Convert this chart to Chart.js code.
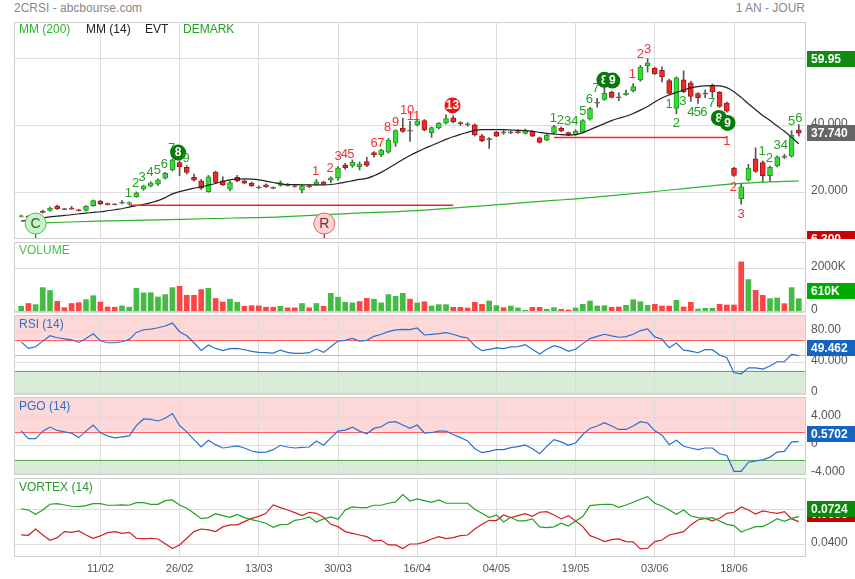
<!DOCTYPE html>
<html>
<head>
<meta charset="utf-8">
<script src="https://cdn.jsdelivr.net/npm/chart.js@4.4.1/dist/chart.umd.min.js"></script>
<style>
body { margin:0; background:#fff; width:855px; height:579px; overflow:hidden; position:relative; font-family:'Liberation Sans', Arial, sans-serif; }
canvas { position:absolute; }
.t { position:absolute; font-size:12px; line-height:14px; white-space:nowrap; }
</style>
</head>
<body>
<canvas id="price" width="841" height="221" style="left:14px;top:18px"></canvas>
<canvas id="volume" width="841" height="74" style="left:14px;top:240px"></canvas>
<canvas id="rsi" width="841" height="83" style="left:14px;top:313px"></canvas>
<canvas id="pgo" width="841" height="82" style="left:14px;top:395px"></canvas>
<canvas id="vortex" width="841" height="103" style="left:14px;top:476px"></canvas>

<div class="t" style="left:14px;top:1px;color:#888">2CRSI - abcbourse.com</div>
<div class="t" style="right:50px;top:1px;color:#888">1 AN - JOUR</div>
<div class="t" style="left:19px;top:22px;color:#2ab52a">MM (200)</div>
<div class="t" style="left:86px;top:22px;color:#222">MM (14)</div>
<div class="t" style="left:145px;top:22px;color:#222">EVT</div>
<div class="t" style="left:183px;top:22px;color:#22a022">DEMARK</div>
<div class="t" style="left:19px;top:243px;color:#4cbf4c">VOLUME</div>
<div class="t" style="left:19px;top:317px;color:#2a6fd0">RSI (14)</div>
<div class="t" style="left:19px;top:399px;color:#2a6fd0">PGO (14)</div>
<div class="t" style="left:19px;top:480px;color:#2a9a2a">VORTEX (14)</div>

<script>
// x axis: one slot per trading day, a date label every 11 sessions
const tickIdx = [11, 22, 33, 44, 55, 66, 77, 88, 99];
const tickLabels = ['11/02', '26/02', '13/03', '30/03', '16/04', '04/05', '19/05', '03/06', '18/06'];

const opens = [
  13.0,13.1,12.9,14.5,14.8,16.1,15.2,15.5,15.0,14.8,
  16.2,17.6,16.8,16.6,17.1,16.7,18.9,21.1,22.0,22.6,
  24.4,26.8,29.0,27.6,24.6,23.6,20.4,26.2,23.6,21.1,
  24.6,23.6,22.9,21.6,22.4,21.5,22.2,22.3,22.2,20.8,
  22.1,22.5,23.2,23.8,24.4,28.3,28.0,27.8,29.3,32.0,
  31.3,32.1,34.8,39.3,38.5,40.2,41.5,37.9,39.3,40.7,
  42.3,40.9,40.4,40.2,37.0,36.0,38.0,38.0,38.0,38.2,
  37.7,38.3,36.4,35.7,37.8,39.2,37.9,37.3,38.0,41.9,
  46.8,47.8,49.9,48.4,49.2,50.4,53.6,57.8,57.0,56.4,
  53.4,45.1,53.6,52.7,49.5,49.5,52.0,49.9,46.7,27.4,
  18.3,23.8,30.1,29.0,25.1,28.0,30.7,30.9,38.7];
const highs = [
  13.4,13.3,13.8,14.9,15.8,16.4,15.4,16.0,15.1,16.2,
  17.9,17.8,17.0,16.8,17.7,17.3,20.3,22.3,23.3,24.2,
  26.1,30.0,29.6,28.1,25.6,24.0,25.2,26.5,24.8,23.5,
  25.2,23.9,23.2,22.1,22.7,21.8,23.6,22.8,22.4,22.3,
  22.4,24.0,23.5,24.8,27.8,28.8,29.8,29.2,30.6,32.3,
  33.0,36.2,38.8,42.2,41.3,41.9,41.8,39.6,40.9,43.2,
  43.0,41.2,40.9,40.5,37.4,36.5,38.3,38.6,38.5,38.8,
  39.0,38.6,36.6,37.5,40.1,39.6,38.1,38.8,41.8,45.4,
  48.1,51.4,50.3,49.8,50.6,52.5,57.9,59.95,57.3,57.5,
  53.8,54.5,56.3,53.2,49.8,50.6,52.4,50.2,47.0,27.6,
  22.9,28.5,33.4,29.5,28.0,31.0,31.5,38.5,40.3];
const lows = [
  12.8,12.6,12.7,14.0,14.6,15.1,15.0,15.1,14.6,14.6,
  16.0,16.5,16.4,16.4,16.7,16.5,18.7,20.8,21.8,22.2,
  24.1,26.5,25.1,25.6,23.5,21.0,20.2,22.9,22.2,20.6,
  23.3,22.7,21.9,21.2,21.6,21.2,22.0,22.0,21.7,20.0,
  21.6,22.3,22.4,23.0,23.8,27.0,27.6,26.8,27.8,30.6,
  30.8,31.8,33.8,38.0,35.3,39.9,38.4,36.5,39.0,40.4,
  40.8,40.0,39.8,36.9,35.2,33.2,36.7,37.4,37.6,37.7,
  37.5,36.7,34.8,35.5,37.6,38.2,37.0,37.1,37.8,41.6,
  45.5,47.5,48.2,47.4,49.0,50.0,53.2,55.9,55.2,53.0,
  49.3,43.5,49.8,47.2,46.6,48.3,48.4,45.4,44.0,24.9,
  16.6,23.5,26.1,23.3,23.4,27.7,30.2,30.6,36.9];
const closes = [
  13.2,12.8,13.5,14.2,15.5,15.3,15.2,15.2,14.7,16.0,
  17.7,16.7,16.5,16.6,17.1,17.1,20.0,22.0,23.0,23.9,
  25.8,29.8,27.8,26.1,23.8,21.4,24.8,23.1,22.4,23.1,
  23.6,22.9,22.1,21.6,21.8,21.5,23.0,22.3,21.9,22.1,
  21.8,23.3,22.6,24.5,27.4,27.5,29.2,28.6,28.2,31.3,
  32.7,35.7,38.5,38.3,38.5,41.4,38.7,39.4,40.7,42.1,
  41.1,40.6,40.4,37.2,35.5,36.0,36.9,38.0,38.0,37.9,
  38.7,36.9,35.0,37.2,39.7,38.4,37.2,38.3,41.5,45.1,
  46.8,49.6,48.4,48.4,49.6,51.6,57.4,58.7,55.4,54.5,
  49.6,54.2,50.1,48.7,48.3,49.5,50.0,45.7,44.3,25.2,
  21.8,27.4,26.4,25.1,27.6,30.7,30.7,37.2,37.74];

const mm14 = [
  11.6,11.9,12.2,12.6,12.9,13.1,13.3,13.5,13.8,14.0,
  14.2,14.4,14.7,15.0,15.3,15.8,16.2,16.6,17.1,17.7,
  18.6,19.7,20.4,20.9,21.4,21.8,22.3,22.8,23.4,23.9,
  24.1,24.2,24.1,23.9,23.5,23.1,22.7,22.5,22.5,22.4,
  22.4,22.4,22.4,22.5,22.8,23.2,23.6,24.0,24.3,25.1,
  26.1,27.3,28.6,29.9,31.1,32.2,33.2,34.1,35.0,35.9,
  36.7,37.4,38.0,38.6,38.8,38.8,38.8,38.8,38.7,38.6,
  38.5,38.3,38.0,37.7,37.5,37.3,37.2,37.3,37.9,38.8,
  39.7,40.6,41.5,42.2,42.8,43.6,44.6,45.7,47.0,48.2,
  49.1,49.9,50.6,51.2,51.6,51.8,51.9,51.8,51.3,50.1,
  48.4,46.5,44.7,43.0,41.5,39.9,38.3,36.5,34.6];
// MM 200, read at a few sessions along the curve
const mm200 = [[3,11.1],[10.6,11.6],[17.5,11.9],[26.8,12.4],[36,12.9],[46,13.9],[56,14.9],
  [73.9,17.8],[77,18.2],[87,20.2],[99,22.7],[108,23.6]];

// EVT support lines [from, to, level] and circles [slot, level, letter, colour]
const evtLines = [[15, 60, 16.35], [74, 98, 36.5]];
const evtMarks = [[2, 10.9, 'C', 'g'], [42.1, 10.9, 'R', 'r']];

// DeMark counts [slot, level, text, colour, circled]
const demark = [
  [14.9,19.9,'1','g'],[15.9,22.9,'2','g'],[16.8,24.9,'3','g'],[17.9,26.1,'4','g'],[18.9,26.9,'5','g'],
  [19.9,28.7,'6','g'],[20.9,33.5,'7','g'],[21.8,32.0,'8','g',1],[22.9,30.4,'9','g'],
  [40.9,26.6,'1','r'],[42.9,27.4,'2','r'],[44.0,31.0,'3','r'],[44.9,31.7,'4','r'],[45.8,31.7,'5','r'],
  [49.0,35.0,'6','r'],[49.95,35.0,'7','r'],[50.9,39.5,'8','r'],[52.0,41.0,'9','r'],[53.6,44.7,'10','r'],
  [54.5,43.0,'11','r'],[59.9,46.0,'13','r',1],
  [73.9,42.2,'1','g'],[74.9,41.8,'2','g'],[75.9,41.3,'3','g'],[76.9,41.5,'4','g'],[78.0,44.5,'5','g'],
  [78.9,48.0,'6','g'],[79.8,51.3,'7','g'],[81.0,53.6,'8','g',1],[82.1,53.4,'9','g',1],
  [84.9,55.5,'1','r'],[86.0,61.3,'2','r'],[87.0,62.7,'3','r'],
  [90.0,46.5,'1','g'],[91.0,40.8,'2','g'],[91.9,47.2,'3','g'],[93.0,44.2,'4','g'],[93.9,44.2,'5','g'],
  [94.8,44.2,'6','g'],[95.9,46.8,'7','g'],[96.9,42.3,'8','g',1],[98.1,40.8,'9','g',1],
  [98.0,35.5,'1','r'],[98.9,21.9,'2','r'],[100.0,13.8,'3','r'],
  [102.9,32.5,'1','g'],[103.9,30.4,'2','g'],[105.0,34.3,'3','g'],[106.0,34.3,'4','g'],
  [107.0,41.5,'5','g'],[108.0,42.3,'6','g']];

// volume in thousands, g = up day, r = down day
const volumes = [
  260,390,340,1120,990,490,200,390,430,570,
  750,460,230,220,280,220,1090,880,890,690,
  800,1120,1180,770,770,1030,1090,620,460,590,
  450,260,290,280,220,220,260,190,190,390,
  190,390,260,860,680,450,420,480,630,590,
  420,800,720,860,590,420,470,276,338,338,
  215,215,184,445,353,507,292,200,276,184,
  77,215,215,123,200,123,92,184,353,507,
  276,292,215,230,307,568,476,307,353,276,
  276,538,230,445,138,169,169,353,323,323,
  2304,1490,998,768,614,645,384,1121,610];
const volDir = 'grgggrrrrggrrrggggggggrrrrgrrggrrrrrgrrgrgrggggrrgggggrgrgggrrrrrggrgggrrggrrgggggrrggggrrrgrrgggrrrrgrrggrgg';

const rsi = [
  67.1,58.6,60.7,68.0,74.9,72.3,71.0,69.7,66.3,71.5,
  77.5,68.5,65.9,65.9,67.2,70.2,79.2,82.6,83.5,85.2,
  87.4,91.2,80.1,74.9,65.9,56.1,63.0,58.6,55.7,58.3,
  58.6,56.9,54.8,53.5,53.1,52.6,56.5,53.5,52.2,52.2,
  53.1,57.8,53.5,60.8,68.1,69.0,71.6,68.1,69.0,74.2,
  76.8,80.2,82.4,83.2,82.8,84.9,75.9,76.8,77.6,78.9,
  76.8,73.8,72.1,61.8,55.7,57.5,59.2,58.3,60.5,60.9,
  63.5,57.5,51.4,57.5,62.2,59.6,54.8,57.5,64.8,71.3,
  74.2,76.8,74.7,73.0,73.8,76.8,81.6,83.7,73.4,70.4,
  59.6,65.6,56.5,55.2,53.1,57.0,57.0,50.1,46.6,27.3,
  26.0,33.7,33.7,32.0,35.9,41.5,41.5,50.9,49.462];

const pgo = [
  2.12,1.01,1.01,2.07,2.65,2.17,1.97,1.78,1.15,2.07,
  2.94,1.83,1.40,1.11,1.26,1.40,2.85,3.81,3.76,3.52,
  3.91,4.59,2.85,1.97,0.86,-0.20,0.77,0.14,-0.34,-0.20,
  -0.05,-0.34,-0.77,-0.97,-0.92,-0.58,0.05,-0.20,-0.34,-0.24,
  -0.20,0.67,0.05,1.11,2.07,2.22,2.65,2.07,1.69,2.46,
  2.70,3.33,3.43,2.94,2.46,2.94,1.80,1.88,2.07,2.07,
  1.59,1.15,0.67,-0.44,-1.01,-0.82,-0.58,-0.58,-0.29,-0.15,
  0.10,-0.44,-1.16,-0.10,0.86,0.53,0.05,0.38,1.59,2.46,
  2.80,3.28,2.80,2.31,2.31,2.80,3.43,3.23,2.12,1.49,
  0.14,0.77,-0.10,-0.34,-0.58,-0.34,-0.34,-1.16,-1.40,-3.67,
  -3.67,-2.37,-2.17,-2.03,-1.64,-0.92,-0.82,0.53,0.5702];

const viPlus = [
  .0812,.0800,.0750,.0800,.0866,.0874,.0858,.0843,.0839,.0851,
  .0874,.0874,.0855,.0855,.0858,.0855,.0885,.0885,.0866,.0866,
  .0908,.0916,.0858,.0820,.0762,.0700,.0712,.0758,.0735,.0716,
  .0750,.0712,.0689,.0670,.0647,.0601,.0632,.0635,.0681,.0693,
  .0720,.0662,.0697,.0720,.0693,.0800,.0835,.0828,.0828,.0855,
  .0855,.0878,.0893,.0977,.0904,.0927,.0908,.0889,.0916,.0878,
  .0878,.0878,.0878,.0808,.0762,.0712,.0743,.0662,.0716,.0674,
  .0674,.0697,.0605,.0597,.0605,.0647,.0616,.0674,.0724,.0851,
  .0858,.0866,.0866,.0831,.0858,.0889,.0924,.0954,.0878,.0847,
  .0800,.0750,.0800,.0731,.0712,.0704,.0712,.0674,.0635,.0620,
  .0547,.0578,.0608,.0608,.0651,.0700,.0670,.0704,.0724];
const viMinus = [
  .0512,.0508,.0581,.0512,.0451,.0481,.0551,.0543,.0558,.0512,
  .0474,.0501,.0539,.0551,.0531,.0543,.0474,.0466,.0474,.0466,
  .0412,.0355,.0397,.0474,.0551,.0581,.0570,.0551,.0605,.0628,
  .0628,.0666,.0704,.0727,.0762,.0858,.0828,.0800,.0770,.0735,
  .0774,.0762,.0716,.0635,.0608,.0551,.0531,.0512,.0493,.0443,
  .0451,.0397,.0397,.0355,.0408,.0408,.0430,.0466,.0493,.0470,
  .0481,.0504,.0512,.0581,.0635,.0681,.0678,.0743,.0712,.0735,
  .0758,.0727,.0774,.0781,.0743,.0697,.0735,.0674,.0608,.0504,
  .0474,.0435,.0458,.0466,.0435,.0432,.0351,.0359,.0435,.0454,
  .0512,.0531,.0551,.0628,.0685,.0704,.0674,.0704,.0762,.0774,
  .0835,.0800,.0754,.0789,.0774,.0762,.0781,.0697,.0666];

const FONT = "'Liberation Sans', Arial, sans-serif";
Chart.defaults.font.family = FONT;
Chart.defaults.color = '#555';

const last = arr => arr[arr.length - 1];
const pts = arr => arr.map((v, i) => ({x: i, y: v}));

function options(yMin, yMax, yTicks, yLabels, showX, padTop, padBottom) {
  return {
    responsive: false,
    animation: false,
    events: [],
    layout: {padding: {top: padTop, bottom: padBottom, left: 0, right: 0}, autoPadding: false},
    plugins: {legend: {display: false}, tooltip: {enabled: false}},
    scales: {
      x: {
        type: 'linear', min: -1, max: 109, offset: false,
        afterBuildTicks: s => { s.ticks = tickIdx.map(v => ({value: v})); },
        afterFit: s => { s.height = showX ? 22 : 0; s.paddingLeft = 0; s.paddingRight = 0; },
        grid: {color: '#dcdcdc', drawTicks: false, offset: false},
        border: {display: false},
        ticks: {display: showX, padding: 5, font: {size: 11}, color: '#555', maxRotation: 0, autoSkip: false,
          callback: (v, i) => tickLabels[i]}
      },
      y: {
        position: 'right', min: yMin, max: yMax,
        afterBuildTicks: s => { s.ticks = yTicks.map(v => ({value: v})); },
        // keep the plot edge where the panel edge is: no room reserved for end labels
        afterFit: s => { s.width = 49; s.paddingTop = 0; s.paddingBottom = 0; },
        grid: {color: '#dcdcdc', drawTicks: false},
        border: {display: false},
        ticks: {padding: 5, font: {size: 12}, color: '#555', labelOffset: -2,
          callback: (v, i) => yLabels[i]}
      }
    }
  };
}

const frame = {
  id: 'frame',
  afterDraw(chart) {
    const a = chart.chartArea, ctx = chart.ctx;
    ctx.save();
    ctx.strokeStyle = '#cfcfcf';
    ctx.lineWidth = 1;
    ctx.strokeRect(a.left + 0.5, a.top + 0.5, a.right - a.left - 1, a.bottom - a.top - 1);
    ctx.restore();
  }
};

// value boxes on the right axis
function badges(list) {
  return {
    id: 'badges',
    afterDraw(chart) {
      const ctx = chart.ctx, y = chart.scales.y, a = chart.chartArea;
      ctx.save();
      ctx.font = 'bold 12px ' + FONT;
      ctx.textBaseline = 'middle';
      list.forEach(b => {
        const py = y.getPixelForValue(b.value);
        const top = Math.round(b.anchor === 'bottom' ? py - 16 : py - 8);
        ctx.fillStyle = b.bg;
        ctx.fillRect(a.right + 1, top, 48, 16);
        ctx.fillStyle = '#fff';
        ctx.fillText(b.text, a.right + 5, top + 8.5);
      });
      ctx.restore();
    }
  };
}

// overbought / oversold zones
function bands(hi, lo, mid) {
  return {
    id: 'bands',
    beforeDraw(chart) {
      const ctx = chart.ctx, y = chart.scales.y, a = chart.chartArea;
      const yh = y.getPixelForValue(hi), yl = y.getPixelForValue(lo);
      ctx.save();
      ctx.fillStyle = '#fdd8d8';
      ctx.fillRect(a.left, a.top, a.right - a.left, yh - a.top);
      ctx.fillStyle = '#d9ebd9';
      ctx.fillRect(a.left, yl, a.right - a.left, a.bottom - yl);
      ctx.restore();
    },
    beforeDatasetsDraw(chart) {
      const ctx = chart.ctx, y = chart.scales.y, a = chart.chartArea;
      const hline = (v, c) => {
        const py = Math.round(y.getPixelForValue(v)) + 0.5;
        ctx.strokeStyle = c;
        ctx.beginPath(); ctx.moveTo(a.left, py); ctx.lineTo(a.right, py); ctx.stroke();
      };
      ctx.save();
      ctx.lineWidth = 1;
      if (mid !== undefined) hline(mid, '#9cc6ee');
      hline(hi, '#ff6161');
      hline(lo, '#5aaa5a');
      ctx.restore();
    }
  };
}

const priceMarks = {
  id: 'priceMarks',
  afterDatasetsDraw(chart) {
    const ctx = chart.ctx, x = chart.scales.x, y = chart.scales.y, a = chart.chartArea;
    ctx.save();
    ctx.textAlign = 'center';
    ctx.textBaseline = 'middle';
    evtMarks.forEach(([i, p, t, c]) => {
      const px = x.getPixelForValue(i), py = y.getPixelForValue(p);
      ctx.strokeStyle = c === 'g' ? '#2a9a2a' : '#d03030';
      ctx.lineWidth = 1.5;
      ctx.beginPath(); ctx.moveTo(px, py + 10); ctx.lineTo(px, a.bottom); ctx.stroke();
      ctx.beginPath(); ctx.arc(px, py, 10.5, 0, Math.PI * 2);
      ctx.fillStyle = c === 'g' ? '#c9f3c9' : '#fbd3d3';
      ctx.fill();
      ctx.lineWidth = 1;
      ctx.strokeStyle = c === 'g' ? '#55bb55' : '#dd6060';
      ctx.stroke();
      ctx.fillStyle = c === 'g' ? '#2f5f2f' : '#7a2a2a';
      ctx.font = '14px ' + FONT;
      ctx.fillText(t, px, py + 0.5);
    });
    demark.forEach(([i, p, t, c, circled]) => {
      const px = x.getPixelForValue(i), py = y.getPixelForValue(p);
      if (circled) {
        ctx.beginPath(); ctx.arc(px, py, 8, 0, Math.PI * 2);
        ctx.fillStyle = c === 'g' ? '#087a08' : '#ee1414';
        ctx.fill();
        ctx.fillStyle = '#fff';
        ctx.font = 'bold 12px ' + FONT;
      } else {
        ctx.fillStyle = c === 'g' ? '#22a022' : '#f03232';
        ctx.font = '13px ' + FONT;
      }
      ctx.fillText(t, px, py + 0.5);
    });
    ctx.restore();
  }
};

// candles as floating bars: thin wick + body
const bodies = opens.map((o, i) => {
  const c = closes[i];
  return o === c ? {x: i, y: [c - 0.15, c + 0.15]} : {x: i, y: [o, c]};
});
const bodyFill = opens.map((o, i) => closes[i] > o ? '#33dd33' : closes[i] < o ? '#ee2a2a' : '#666');
const bodyLine = opens.map((o, i) => closes[i] > o ? '#1f9a1f' : closes[i] < o ? '#a51515' : '#666');
const wicks = lows.map((l, i) => ({x: i, y: [l, highs[i]]}));

const yMinPrice = 6.3;
new Chart(document.getElementById('price'), {
  type: 'bar',
  data: {
    datasets: [
      {type: 'line', data: evtLines.flatMap(([a, b, v]) => [{x: a, y: v}, {x: b, y: v}, {x: b, y: null}]),
        borderColor: '#ff2020', borderWidth: 1.5, pointRadius: 0, spanGaps: false, order: 0},
      {type: 'line', data: pts(mm14), borderColor: '#222', borderWidth: 1.2, pointRadius: 0, tension: 0.3, order: 0},
      {type: 'line', data: mm200.map(([i, v]) => ({x: i, y: v})), borderColor: '#2ab52a', borderWidth: 1.2,
        pointRadius: 0, tension: 0.3, order: 0},
      {data: bodies, backgroundColor: bodyFill, borderColor: bodyLine, borderWidth: 1, borderSkipped: false,
        barThickness: 5, grouped: false, order: 1},
      {data: wicks, backgroundColor: '#555', borderWidth: 0, barThickness: 1, grouped: false, order: 2}
    ]
  },
  options: options(yMinPrice, 70.8, [20, 40, 60], ['20.000', '40.000', '60.000'], false, 4, 0),
  plugins: [frame, priceMarks, badges([
    {value: Math.max(...highs), text: Math.max(...highs).toFixed(2), bg: '#118a11'},
    {value: last(closes), text: last(closes).toFixed(3), bg: '#666'},
    {value: yMinPrice, text: yMinPrice.toFixed(3), bg: '#cc0000'}
  ])]
});

new Chart(document.getElementById('volume'), {
  type: 'bar',
  data: {
    datasets: [{data: pts(volumes), backgroundColor: volDir.split('').map(d => d === 'g' ? '#44bb44' : '#ff4444'),
      barThickness: 5, borderWidth: 0}]
  },
  options: options(0, 3220, [0, 2000], ['0', '2000K'], false, 2, 2),
  plugins: [frame, badges([{value: last(volumes), text: last(volumes) + 'K', bg: '#00aa00', anchor: 'bottom'}])]
});

new Chart(document.getElementById('rsi'), {
  type: 'line',
  data: {datasets: [{data: pts(rsi), borderColor: '#2a6fd0', borderWidth: 1.2, pointRadius: 0}]},
  options: options(0, 101.6, [0, 40, 80], ['0', '40.000', '80.00'], false, 2, 2),
  plugins: [bands(70, 30, 50), frame, badges([{value: last(rsi), text: last(rsi).toFixed(3), bg: '#1565c0', anchor: 'bottom'}])]
});

new Chart(document.getElementById('pgo'), {
  type: 'line',
  data: {datasets: [{data: pts(pgo), borderColor: '#2a6fd0', borderWidth: 1.2, pointRadius: 0}]},
  options: options(-4.2, 6.95, [-4, 0, 4], ['-4.000', '0', '4.000'], false, 2, 2),
  plugins: [bands(2, -2), frame, badges([{value: last(pgo), text: last(pgo).toFixed(4), bg: '#1565c0', anchor: 'bottom'}])]
});

new Chart(document.getElementById('vortex'), {
  type: 'line',
  data: {
    datasets: [
      {data: pts(viPlus), borderColor: '#22a022', borderWidth: 1.2, pointRadius: 0},
      {data: pts(viMinus), borderColor: '#d02020', borderWidth: 1.2, pointRadius: 0}
    ]
  },
  options: options(0.0258, 0.1169, [0.04, 0.08], ['0.0400', '0.0800'], true, 2, 0),
  plugins: [frame, badges([
    {value: last(viMinus), text: last(viMinus).toFixed(4), bg: '#cc0000', anchor: 'bottom'},
    {value: last(viPlus), text: last(viPlus).toFixed(4), bg: '#0a8a0a', anchor: 'bottom'}
  ])]
});
</script>
</body>
</html>
